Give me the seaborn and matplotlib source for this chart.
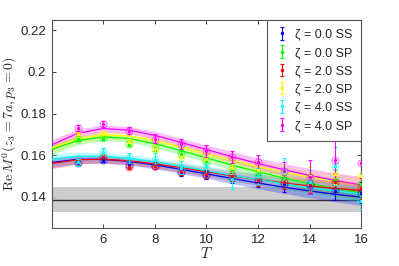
import numpy as np
import pandas as pd
import matplotlib
matplotlib.use("Agg")
import matplotlib.pyplot as plt
import seaborn as sns

# ---------------- data ----------------
labels = ["ζ = 0.0 SS", "ζ = 0.0 SP", "ζ = 2.0 SS", "ζ = 2.0 SP", "ζ = 4.0 SS", "ζ = 4.0 SP"]
colors = ["#0000ff", "#00ff00", "#ff0000", "#ffff00", "#00ffff", "#ff00ff"]

T_data = [5, 6, 7, 8, 9, 10, 11, 12, 13, 14, 15, 16]
vals_00SS = [0.1562, 0.1575, 0.1555, 0.1548, 0.1520, 0.1505, 0.1490, 0.1475, 0.1460, 0.1455, 0.1430, 0.1420]
errs_00SS = [0.0010, 0.0010, 0.0012, 0.0015, 0.0018, 0.0020, 0.0025, 0.0030, 0.0035, 0.0040, 0.0045, 0.0050]
vals_00SP = [0.1680, 0.1683, 0.1655, 0.1635, 0.1605, 0.1570, 0.1535, 0.1510, 0.1490, 0.1470, 0.1480, 0.1460]
errs_00SP = [0.0010, 0.0010, 0.0012, 0.0015, 0.0018, 0.0022, 0.0025, 0.0030, 0.0035, 0.0040, 0.0050, 0.0055]
vals_20SS = [0.1565, 0.1590, 0.1545, 0.1550, 0.1525, 0.1510, 0.1500, 0.1480, 0.1470, 0.1460, 0.1470, 0.1440]
errs_20SS = [0.0010, 0.0010, 0.0012, 0.0015, 0.0018, 0.0020, 0.0025, 0.0030, 0.0035, 0.0040, 0.0045, 0.0050]
vals_20SP = [0.1700, 0.1700, 0.1665, 0.1630, 0.1590, 0.1580, 0.1540, 0.1530, 0.1515, 0.1500, 0.1510, 0.1500]
errs_20SP = [0.0012, 0.0012, 0.0015, 0.0018, 0.0020, 0.0025, 0.0030, 0.0035, 0.0040, 0.0045, 0.0050, 0.0060]
vals_40SS = [0.1565, 0.1615, 0.1585, 0.1578, 0.1540, 0.1548, 0.1484, 0.1500, 0.1520, 0.1470, 0.1548, 0.1380]
errs_40SS = [0.0015, 0.0020, 0.0025, 0.0030, 0.0030, 0.0035, 0.0045, 0.0040, 0.0065, 0.0060, 0.0090, 0.0040]
vals_40SP = [0.1730, 0.1750, 0.1718, 0.1680, 0.1655, 0.1620, 0.1590, 0.1565, 0.1525, 0.1495, 0.1576, 0.1564]
errs_40SP = [0.0015, 0.0015, 0.0018, 0.0020, 0.0025, 0.0030, 0.0030, 0.0035, 0.0040, 0.0080, 0.0100, 0.0120]

T_fit = [4, 5, 6, 7, 8, 9, 10, 11, 12, 13, 14, 15, 16]
fit_00SS = [0.1565, 0.1580, 0.1580, 0.1570, 0.1553, 0.1532, 0.1510, 0.1488, 0.1466, 0.1446, 0.1428, 0.1412, 0.1398]
fit_00SP = [0.1628, 0.1670, 0.1688, 0.1680, 0.1655, 0.1622, 0.1587, 0.1552, 0.1520, 0.1490, 0.1463, 0.1440, 0.1420]
fit_20SS = [0.1560, 0.1578, 0.1580, 0.1573, 0.1558, 0.1540, 0.1520, 0.1500, 0.1482, 0.1466, 0.1452, 0.1440, 0.1430]
fit_20SP = [0.1635, 0.1680, 0.1698, 0.1692, 0.1670, 0.1640, 0.1607, 0.1575, 0.1545, 0.1518, 0.1495, 0.1475, 0.1458]
fit_40SS = [0.1580, 0.1595, 0.1595, 0.1585, 0.1568, 0.1547, 0.1525, 0.1503, 0.1482, 0.1462, 0.1444, 0.1428, 0.1414]
fit_40SP = [0.1650, 0.1705, 0.1728, 0.1720, 0.1695, 0.1662, 0.1627, 0.1592, 0.1560, 0.1530, 0.1503, 0.1478, 0.1457]
fit_err = [0.0025, 0.0020, 0.0018, 0.0018, 0.0019, 0.0020, 0.0022, 0.0025, 0.0027, 0.0030, 0.0033, 0.0036, 0.0040]

band_center = 0.1386
band_lo = 0.1326
band_hi = 0.1445

vals_all = [vals_00SS, vals_00SP, vals_20SS, vals_20SP, vals_40SS, vals_40SP]
errs_all = [errs_00SS, errs_00SP, errs_20SS, errs_20SP, errs_40SS, errs_40SP]
fits_all = [fit_00SS, fit_00SP, fit_20SS, fit_20SP, fit_40SS, fit_40SP]

# ---------------- style ----------------
sns.set_theme(style="ticks")
plt.rcParams["font.family"] = ["Liberation Sans", "DejaVu Sans"]
plt.rcParams["mathtext.fontset"] = "cm"
spine_c = "#262626"

fig = plt.figure(figsize=(3.99, 2.66), dpi=100)
ax = fig.add_axes([0.130, 0.143, 0.775, 0.782])

# grey constant band
ax.axhspan(band_lo, band_hi, color="#c8c8c8", alpha=0.9, lw=0, zorder=1)
ax.axhline(band_center, color="#333333", lw=1.0, zorder=2)

# fit curves + bands
fit_df = pd.concat([
    pd.DataFrame({"T": T_fit, "y": f, "series": lab})
    for f, lab in zip(fits_all, labels)
])
for f, c in zip(fits_all, colors):
    lo = np.array(f) - np.array(fit_err)
    hi = np.array(f) + np.array(fit_err)
    ax.fill_between(T_fit, lo, hi, color=c, alpha=0.25, lw=0, zorder=2)
sns.lineplot(data=fit_df, x="T", y="y", hue="series", palette=dict(zip(labels, colors)),
             ax=ax, lw=0.9, legend=False, zorder=3)

# data points
handles = []
for v, e, c, lab in zip(vals_all, errs_all, colors, labels):
    h = ax.errorbar(T_data, v, yerr=e, fmt=".", color=c, ms=3, lw=0.8,
                    capsize=1.5, capthick=0.8, zorder=4, label=lab)
    ax.plot(T_data, v, "o", mfc="none", mec=c, ms=5, mew=0.7, alpha=0.6, zorder=4)
    handles.append(h)

ax.set_xlim(4, 16)
ax.set_ylim(0.125, 0.225)
ax.set_xticks([6, 8, 10, 12, 14, 16])
ax.set_yticks([0.14, 0.16, 0.18, 0.2, 0.22])
ax.set_yticklabels(["0.14", "0.16", "0.18", "0.2", "0.22"])
ax.tick_params(direction="in", top=True, right=True, length=3, width=0.6,
               labelsize=9.5, colors=spine_c, pad=4)
for s in ax.spines.values():
    s.set_color("#555555")
    s.set_linewidth(0.8)

ax.set_xlabel(r"$T$", fontsize=11, labelpad=0)
ax.set_ylabel(r"$\mathrm{Re}\,M^0(z_3=7a,p_3=0)$", fontsize=10)
ax.yaxis.set_label_coords(-0.106, 0.5)

leg = ax.legend(handles=handles, labels=labels, loc="upper right", fontsize=9,
                frameon=True, fancybox=False, edgecolor="#555555", borderaxespad=0,
                handlelength=0.9, handletextpad=0.6, labelspacing=0.5,
                borderpad=0.7, framealpha=1)
leg.get_frame().set_linewidth(0.8)

fig.savefig("out.png", dpi=100)
